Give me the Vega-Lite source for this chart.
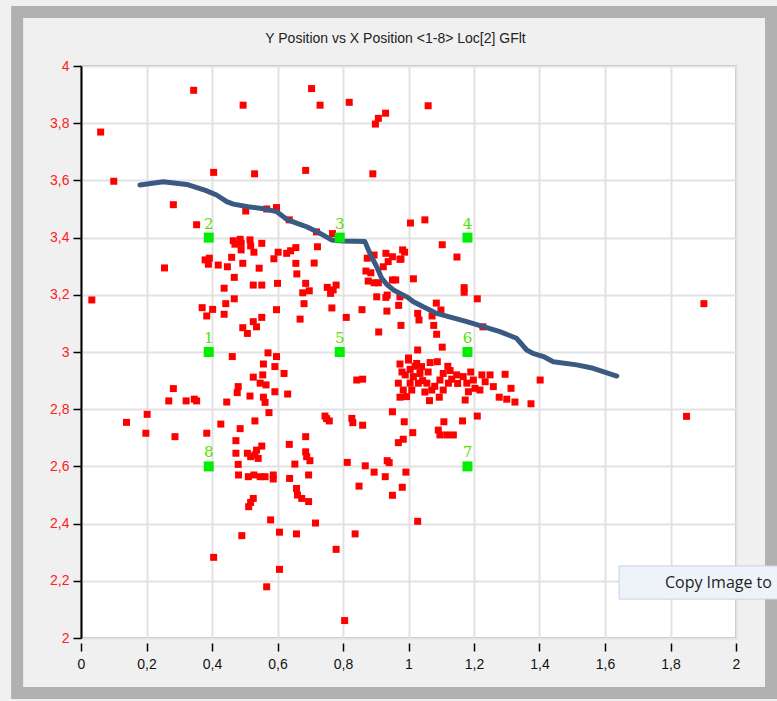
{
  "$schema": "https://vega.github.io/schema/vega-lite/v6.json",
  "width": 655,
  "height": 572,
  "autosize": {"type": "none"},
  "padding": {"left": 81, "top": 66, "right": 41, "bottom": 63},
  "background": "#f0f0f0",
  "config": {
    "view": {"fill": "white", "stroke": "#a8a8a8", "strokeWidth": 1.5},
    "font": "Liberation Sans"
  },
  "title": {
    "text": "Y Position vs X Position <1-8> Loc[2] GFlt",
    "fontSize": 14,
    "fontWeight": "normal",
    "font": "Liberation Sans Narrow, Liberation Sans",
    "color": "#222222",
    "offset": -40,
    "dx": -13
  },
  "datasets": {
    "frame": [{"x": -0.195, "x2": 2.107, "y": 4.189, "y2": 1.808}],
    "button": [{"x": 1.643, "x2": 2.134, "y": 2.252, "y2": 2.136, "tx": 1.783, "ty": 2.192, "label": "Copy Image to"}],
    "pts": [
      {"x":0.344,"y":3.915},{"x":0.704,"y":3.921},{"x":0.495,"y":3.863},{"x":0.730,"y":3.863},{"x":0.819,"y":3.873},{"x":0.930,"y":3.835},{"x":0.908,"y":3.817},{"x":0.899,"y":3.797},{"x":0.060,"y":3.769},{"x":0.100,"y":3.597},{"x":0.405,"y":3.628},{"x":0.530,"y":3.623},{"x":0.686,"y":3.635},{"x":0.891,"y":3.623},{"x":0.282,"y":3.515},{"x":0.503,"y":3.493},{"x":0.567,"y":3.500},{"x":0.597,"y":3.505},{"x":0.636,"y":3.462},{"x":0.353,"y":3.445},{"x":0.719,"y":3.420},{"x":0.768,"y":3.414},{"x":1.006,"y":3.451},{"x":0.255,"y":3.294},{"x":0.033,"y":3.182},{"x":1.060,"y":3.861},{"x":1.050,"y":3.462},{"x":1.103,"y":3.375},{"x":1.148,"y":3.332},{"x":1.015,"y":3.256},{"x":0.982,"y":3.357},{"x":0.988,"y":3.349},{"x":0.977,"y":3.325},{"x":1.170,"y":3.225},{"x":1.170,"y":3.209},{"x":1.210,"y":3.186},{"x":1.085,"y":3.171},{"x":1.099,"y":3.147},{"x":1.028,"y":3.135},{"x":1.032,"y":3.112},{"x":1.072,"y":3.126},{"x":1.077,"y":3.093},{"x":0.977,"y":3.093},{"x":1.227,"y":3.088},{"x":1.086,"y":3.062},{"x":1.103,"y":3.017},{"x":1.028,"y":3.007},{"x":1.902,"y":3.169},
      {"x":0.465,"y":3.389},{"x":0.486,"y":3.394},{"x":0.489,"y":3.380},{"x":0.470,"y":3.377},{"x":0.489,"y":3.357},{"x":0.516,"y":3.392},{"x":0.518,"y":3.371},{"x":0.528,"y":3.349},{"x":0.552,"y":3.380},{"x":0.602,"y":3.349},{"x":0.589,"y":3.326},{"x":0.628,"y":3.345},{"x":0.640,"y":3.354},{"x":0.656,"y":3.365},{"x":0.379,"y":3.322},{"x":0.392,"y":3.328},{"x":0.389,"y":3.307},{"x":0.419,"y":3.304},{"x":0.447,"y":3.298},{"x":0.460,"y":3.331},{"x":0.494,"y":3.310},{"x":0.544,"y":3.293},{"x":0.656,"y":3.310},{"x":0.659,"y":3.273},{"x":0.468,"y":3.261},{"x":0.526,"y":3.234},{"x":0.552,"y":3.234},{"x":0.600,"y":3.240},{"x":0.686,"y":3.240},{"x":0.697,"y":3.214},{"x":0.677,"y":3.207},{"x":0.437,"y":3.223},{"x":0.468,"y":3.186},{"x":0.442,"y":3.169},{"x":0.681,"y":3.169},{"x":0.370,"y":3.155},{"x":0.402,"y":3.149},{"x":0.384,"y":3.126},{"x":0.437,"y":3.132},{"x":0.597,"y":3.148},{"x":0.552,"y":3.121},{"x":0.526,"y":3.106},{"x":0.536,"y":3.088},{"x":0.669,"y":3.115},{"x":0.494,"y":3.085},{"x":0.508,"y":3.065},{"x":0.571,"y":2.997},{"x":0.597,"y":2.984},{"x":0.462,"y":2.984},
      {"x":0.722,"y":3.368},{"x":0.712,"y":3.311},{"x":0.752,"y":3.226},{"x":0.770,"y":3.217},{"x":0.779,"y":3.234},{"x":0.762,"y":3.205},{"x":0.766,"y":3.154},{"x":0.810,"y":3.121},{"x":0.858,"y":3.148},{"x":0.909,"y":3.070},{"x":0.934,"y":3.143},{"x":0.970,"y":3.163},{"x":1.000,"y":2.979},{"x":0.874,"y":3.328},{"x":0.895,"y":3.339},{"x":0.870,"y":3.283},{"x":0.885,"y":3.277},{"x":0.877,"y":3.248},{"x":0.895,"y":3.242},{"x":0.908,"y":3.242},{"x":0.931,"y":3.345},{"x":0.938,"y":3.316},{"x":0.951,"y":3.333},{"x":0.974,"y":3.324},{"x":0.923,"y":3.298},{"x":0.961,"y":3.252},{"x":0.951,"y":3.252},{"x":0.903,"y":3.193},{"x":0.931,"y":3.191},{"x":0.935,"y":3.199},{"x":0.974,"y":3.193},
      {"x":0.860,"y":2.905},{"x":0.974,"y":2.958},{"x":1.000,"y":2.972},{"x":1.005,"y":2.939},{"x":1.025,"y":2.960},{"x":1.040,"y":2.949},{"x":1.066,"y":2.963},{"x":1.088,"y":2.966},{"x":1.035,"y":2.925},{"x":1.015,"y":2.914},{"x":1.043,"y":2.900},{"x":1.005,"y":2.891},{"x":0.969,"y":2.891},{"x":0.984,"y":2.867},{"x":1.010,"y":2.867},{"x":0.974,"y":2.842},{"x":0.994,"y":2.844},{"x":1.030,"y":2.891},{"x":1.056,"y":2.891},{"x":1.071,"y":2.867},{"x":1.096,"y":2.902},{"x":1.106,"y":2.925},{"x":1.127,"y":2.935},{"x":1.132,"y":2.905},{"x":1.147,"y":2.920},{"x":1.122,"y":2.891},{"x":1.106,"y":2.867},{"x":1.094,"y":2.842},{"x":1.064,"y":2.830},{"x":1.167,"y":2.914},{"x":1.178,"y":2.891},{"x":1.198,"y":2.902},{"x":1.183,"y":2.861},{"x":1.173,"y":2.832},{"x":1.203,"y":2.873},{"x":1.218,"y":2.867},{"x":1.224,"y":2.920},{"x":1.249,"y":2.920},{"x":1.234,"y":2.896},{"x":1.259,"y":2.879},{"x":1.295,"y":2.922},{"x":1.313,"y":2.873},{"x":1.277,"y":2.842},{"x":1.300,"y":2.835},{"x":1.325,"y":2.825},{"x":1.374,"y":2.819},{"x":1.402,"y":2.902},
      {"x":0.990,"y":2.920},{"x":1.020,"y":2.950},{"x":1.060,"y":2.930},{"x":1.080,"y":2.880},{"x":1.150,"y":2.890},{"x":1.190,"y":2.930},{"x":1.120,"y":2.950},{"x":1.050,"y":2.860},{"x":0.980,"y":2.930},
      {"x":0.951,"y":2.791},{"x":0.987,"y":2.756},{"x":1.013,"y":2.718},{"x":0.984,"y":2.695},{"x":0.969,"y":2.683},{"x":0.860,"y":2.744},{"x":1.108,"y":2.756},{"x":1.165,"y":2.759},{"x":1.210,"y":2.776},{"x":1.091,"y":2.727},{"x":1.096,"y":2.710},{"x":1.117,"y":2.710},{"x":1.137,"y":2.710},
      {"x":1.849,"y":2.775},{"x":0.992,"y":2.580},{"x":0.981,"y":2.527},{"x":1.028,"y":2.408},
      {"x":0.868,"y":2.602},{"x":0.895,"y":2.580},{"x":0.935,"y":2.620},{"x":0.941,"y":2.613},{"x":0.929,"y":2.564},{"x":0.951,"y":2.499},{"x":0.849,"y":2.531},
      {"x":0.557,"y":2.958},{"x":0.592,"y":2.949},{"x":0.620,"y":2.925},{"x":0.526,"y":2.912},{"x":0.555,"y":2.920},{"x":0.547,"y":2.891},{"x":0.565,"y":2.885},{"x":0.480,"y":2.879},{"x":0.477,"y":2.858},{"x":0.516,"y":2.846},{"x":0.557,"y":2.842},{"x":0.562,"y":2.824},{"x":0.592,"y":2.861},{"x":0.631,"y":2.853},{"x":0.445,"y":2.825},{"x":0.346,"y":2.835},{"x":0.353,"y":2.829},{"x":0.574,"y":2.788},{"x":0.531,"y":2.759},{"x":0.427,"y":2.748},{"x":0.486,"y":2.732},{"x":0.384,"y":2.716},{"x":0.473,"y":2.690},{"x":0.473,"y":2.646},{"x":0.508,"y":2.646},{"x":0.518,"y":2.634},{"x":0.531,"y":2.640},{"x":0.536,"y":2.657},{"x":0.552,"y":2.671},{"x":0.541,"y":2.628},{"x":0.480,"y":2.607},{"x":0.636,"y":2.677},{"x":0.686,"y":2.704},{"x":0.686,"y":2.651},{"x":0.689,"y":2.634},{"x":0.699,"y":2.620},{"x":0.653,"y":2.608},{"x":0.745,"y":2.776},{"x":0.750,"y":2.767},{"x":0.758,"y":2.759},{"x":0.827,"y":2.768},{"x":0.830,"y":2.753},{"x":0.813,"y":2.614},{"x":0.842,"y":2.902},
      {"x":0.282,"y":2.872},{"x":0.268,"y":2.829},{"x":0.321,"y":2.829},{"x":0.202,"y":2.782},{"x":0.139,"y":2.754},{"x":0.198,"y":2.716},{"x":0.287,"y":2.704},
      {"x":0.695,"y":2.570},{"x":0.637,"y":2.558},{"x":0.658,"y":2.523},{"x":0.661,"y":2.500},{"x":0.674,"y":2.488},{"x":0.695,"y":2.477},
      {"x":0.481,"y":2.570},{"x":0.511,"y":2.564},{"x":0.528,"y":2.570},{"x":0.547,"y":2.564},{"x":0.562,"y":2.564},{"x":0.587,"y":2.570},{"x":0.587,"y":2.556},
      {"x":0.526,"y":2.488},{"x":0.518,"y":2.474},{"x":0.512,"y":2.459},{"x":0.579,"y":2.413},{"x":0.606,"y":2.370},{"x":0.491,"y":2.358},{"x":0.658,"y":2.364},{"x":0.716,"y":2.402},{"x":0.779,"y":2.310},{"x":0.837,"y":2.364},{"x":0.405,"y":2.282},{"x":0.606,"y":2.240},{"x":0.567,"y":2.179},{"x":0.805,"y":2.061}
    ],
    "fit": [
      {"x":0.180,"y":3.584},{"x":0.251,"y":3.595},{"x":0.323,"y":3.586},{"x":0.380,"y":3.565},{"x":0.414,"y":3.549},{"x":0.445,"y":3.526},{"x":0.465,"y":3.517},{"x":0.510,"y":3.508},{"x":0.552,"y":3.502},{"x":0.597,"y":3.491},{"x":0.628,"y":3.464},{"x":0.660,"y":3.450},{"x":0.689,"y":3.438},{"x":0.730,"y":3.415},{"x":0.765,"y":3.392},{"x":0.800,"y":3.388},{"x":0.867,"y":3.386},{"x":0.882,"y":3.345},{"x":0.903,"y":3.298},{"x":0.918,"y":3.258},{"x":0.935,"y":3.235},{"x":0.954,"y":3.217},{"x":0.974,"y":3.205},{"x":0.999,"y":3.190},{"x":1.015,"y":3.176},{"x":1.045,"y":3.158},{"x":1.086,"y":3.135},{"x":1.178,"y":3.106},{"x":1.279,"y":3.071},{"x":1.330,"y":3.048},{"x":1.361,"y":3.007},{"x":1.380,"y":2.995},{"x":1.412,"y":2.984},{"x":1.442,"y":2.966},{"x":1.514,"y":2.955},{"x":1.564,"y":2.943},{"x":1.636,"y":2.916}
    ],
    "markers": [
      {"x":0.39,"y":3.0,"label":"1"},{"x":0.39,"y":3.4,"label":"2"},{"x":0.79,"y":3.4,"label":"3"},{"x":1.18,"y":3.4,"label":"4"},
      {"x":0.79,"y":3.0,"label":"5"},{"x":1.18,"y":3.0,"label":"6"},{"x":1.18,"y":2.6,"label":"7"},{"x":0.39,"y":2.6,"label":"8"}
    ]
  },
  "layer": [
    {
      "data": {"name": "frame"},
      "mark": {"type": "rect", "fill": null, "fillOpacity": 0, "stroke": "#b1b1b1", "strokeWidth": 12, "clip": false},
      "encoding": {
        "x": {"field": "x", "type": "quantitative", "scale": {"domain": [0, 2], "nice": false, "zero": false},
          "axis": {"values": [0,0.2,0.4,0.6,0.8,1,1.2,1.4,1.6,1.8,2], "title": null, "labelExpr": "replace(toString(datum.value), '.', ',')",
            "domain": false, "ticks": true, "tickColor": "#000000", "tickSize": 8, "tickWidth": 1.5, "offset": 5,
            "labelColor": "#111111", "labelFontSize": 14, "labelFont": "Liberation Sans Narrow, Liberation Sans", "labelPadding": 6,
            "grid": true, "gridColor": "#e2e2e2", "gridWidth": 2, "labelFlush": false}},
        "x2": {"field": "x2"},
        "y": {"field": "y", "type": "quantitative", "scale": {"domain": [2, 4], "nice": false, "zero": false},
          "axis": {"values": [2,2.2,2.4,2.6,2.8,3,3.2,3.4,3.6,3.8,4], "title": null, "labelExpr": "replace(toString(datum.value), '.', ',')",
            "domain": true, "domainColor": "#000000", "domainWidth": 2, "ticks": true, "tickColor": "#000000", "tickSize": 8, "tickWidth": 1.5,
            "labelColor": "#ff2020", "labelFontSize": 14, "labelFont": "Liberation Sans Narrow, Liberation Sans", "labelPadding": 4,
            "grid": true, "gridColor": "#e2e2e2", "gridWidth": 2, "labelFlush": false}},
        "y2": {"field": "y2"}
      }
    },
    {
      "data": {"name": "pts"},
      "mark": {"type": "square", "size": 49, "color": "#ff0000", "opacity": 1, "filled": true, "strokeWidth": 0},
      "encoding": {
        "x": {"field": "x", "type": "quantitative"},
        "y": {"field": "y", "type": "quantitative"}
      }
    },
    {
      "data": {"name": "fit"},
      "mark": {"type": "line", "color": "#3a5a82", "strokeWidth": 5, "strokeCap": "round", "strokeJoin": "round"},
      "encoding": {
        "x": {"field": "x", "type": "quantitative"},
        "y": {"field": "y", "type": "quantitative"}
      }
    },
    {
      "data": {"name": "markers"},
      "mark": {"type": "square", "size": 100, "color": "#00ee00", "opacity": 1, "filled": true, "strokeWidth": 0},
      "encoding": {
        "x": {"field": "x", "type": "quantitative"},
        "y": {"field": "y", "type": "quantitative"}
      }
    },
    {
      "data": {"name": "markers"},
      "mark": {"type": "text", "color": "#55e000", "fontSize": 15, "font": "DejaVu Serif", "dy": -14, "baseline": "middle"},
      "encoding": {
        "x": {"field": "x", "type": "quantitative"},
        "y": {"field": "y", "type": "quantitative"},
        "text": {"field": "label"}
      }
    },
    {
      "data": {"name": "button"},
      "mark": {"type": "rect", "fill": "#eef3fa", "stroke": "#c3d3ea", "strokeWidth": 1, "clip": false},
      "encoding": {
        "x": {"field": "x", "type": "quantitative"},
        "x2": {"field": "x2"},
        "y": {"field": "y", "type": "quantitative"},
        "y2": {"field": "y2"}
      }
    },
    {
      "data": {"name": "button"},
      "mark": {"type": "text", "align": "left", "baseline": "middle", "fontSize": 16, "font": "Open Sans", "color": "#1e1e1e", "clip": false},
      "encoding": {
        "x": {"field": "tx", "type": "quantitative"},
        "y": {"field": "ty", "type": "quantitative"},
        "text": {"field": "label"}
      }
    }
  ]
}
